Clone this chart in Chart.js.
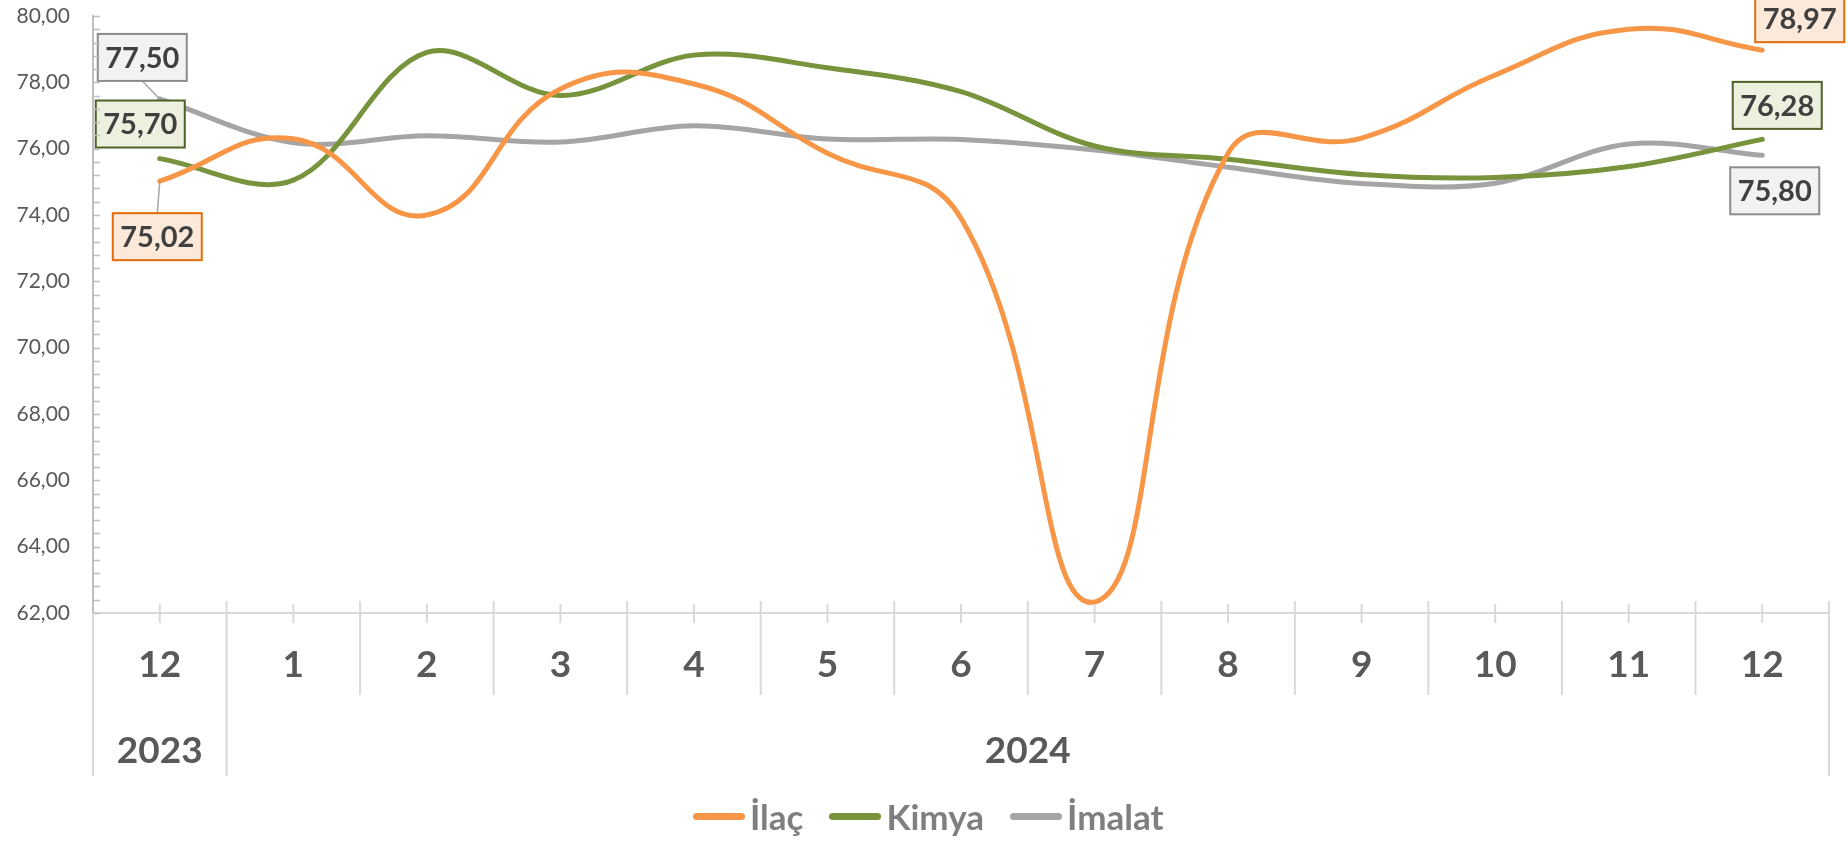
<!DOCTYPE html>
<html>
<head>
<meta charset="utf-8">
<script src="https://cdn.jsdelivr.net/npm/chart.js@4.4.1/dist/chart.umd.min.js"></script>
<style>
  html, body { margin: 0; padding: 0; background: #fff; }
  #wrap { position: relative; width: 1848px; height: 842px; }
  #legend {
    position: absolute; left: 693px; top: 796px; height: 40px;
    display: flex; align-items: center;
    font-family: Lato, "Open Sans", sans-serif; font-weight: bold; font-size: 35px; color: #7f7f7f;
  }
  .legend-item { display: flex; align-items: center; margin-right: 26px; }
  .legend-line { display: inline-block; width: 52px; height: 7px; border-radius: 4px; margin-right: 5px; }
</style>
</head>
<body>
<div id="wrap">
  <canvas id="chart" width="1848" height="842"></canvas>
  <div id="legend"></div>
</div>
<script>
  // months on the axis and the year groups below them
  const months = ["12", "1", "2", "3", "4", "5", "6", "7", "8", "9", "10", "11", "12"];
  const years = ["2023", "2024"];
  const yearSpan = [1, 12];

  const seriesNames = ["İlaç", "Kimya", "İmalat"];
  const ilac   = [75.02, 76.30, 74.00, 77.80, 77.95, 75.86, 73.90, 62.33, 75.86, 76.32, 78.22, 79.60, 78.97];
  const kimya  = [75.70, 75.05, 78.90, 77.60, 78.82, 78.44, 77.72, 76.08, 75.68, 75.22, 75.13, 75.46, 76.28];
  const imalat = [77.50, 76.18, 76.39, 76.20, 76.69, 76.29, 76.28, 75.96, 75.44, 74.95, 74.96, 76.14, 75.80];

  const lineColors = ["#F79646", "#77933C", "#A5A5A5"];
  const lineTension = [0.45, 0.35, 0.35];
  const boxFill    = ["#FDE9D9", "#EBF1DE", "#F2F2F2"];
  const boxBorder  = ["#E46C0A", "#4F6228", "#8C8C8C"];

  // where the value boxes sit relative to their point (first and last point)
  const boxOffsets = [
    { first: [-2.5, 55.5, true],  last: [37.5, -31.5, false] },
    { first: [-19.5, -34.6, false], last: [15, -34, false] },
    { first: [-17.5, -41.5, true], last: [12.5, 35.5, false] }
  ];

  const fmt = v => v.toFixed(2).replace(".", ",");

  const axisDecor = {
    id: "axisDecor",
    afterDraw(chart) {
      const { ctx, chartArea } = chart;
      const x = chart.scales.x, y = chart.scales.y;
      const bottom = chartArea.bottom;
      ctx.save();
      // minor ticks inside the y axis
      ctx.strokeStyle = "#BFBFBF";
      ctx.lineWidth = 1.5;
      for (let k = 0; k <= 45; k++) {
        const py = Math.round(y.getPixelForValue(62 + k * 0.4)) + 0.5;
        ctx.beginPath();
        ctx.moveTo(chartArea.left, py);
        ctx.lineTo(chartArea.left + 7, py);
        ctx.stroke();
      }
      // tick marks at category centres
      ctx.strokeStyle = "#D9D9D9";
      ctx.lineWidth = 2;
      months.forEach((m, i) => {
        const px = x.getPixelForValue(i);
        ctx.beginPath();
        ctx.moveTo(px, bottom - 9);
        ctx.lineTo(px, bottom + 10);
        ctx.stroke();
      });
      // separators between categories, longer ones between years
      const yearEdges = [0];
      yearSpan.forEach(n => yearEdges.push(yearEdges[yearEdges.length - 1] + n));
      const step = x.getPixelForValue(1) - x.getPixelForValue(0);
      for (let b = 0; b <= months.length; b++) {
        const px = x.getPixelForValue(0) - step / 2 + b * step;
        const long = yearEdges.includes(b);
        ctx.beginPath();
        ctx.moveTo(px, b === 0 ? bottom : bottom - 12);
        ctx.lineTo(px, long ? 776 : 695);
        ctx.stroke();
      }
      // year labels
      ctx.fillStyle = "#595959";
      ctx.font = "bold 37px Lato, 'Open Sans', sans-serif";
      ctx.textAlign = "center";
      ctx.textBaseline = "middle";
      years.forEach((yr, g) => {
        const l = x.getPixelForValue(0) - step / 2 + yearEdges[g] * step;
        const r = x.getPixelForValue(0) - step / 2 + yearEdges[g + 1] * step;
        ctx.fillText(yr, (l + r) / 2, 751);
      });
      ctx.restore();
    }
  };

  const valueBoxes = {
    id: "valueBoxes",
    afterDatasetsDraw(chart) {
      const ctx = chart.ctx;
      const w = 89, h = 47;
      ctx.save();
      chart.data.datasets.forEach((ds, d) => {
        const meta = chart.getDatasetMeta(d);
        const idxs = { first: 0, last: ds.data.length - 1 };
        Object.keys(idxs).forEach(key => {
          const i = idxs[key];
          const pt = meta.data[i];
          const [dx, dy, leader] = boxOffsets[d][key];
          const cx = pt.x + dx, cy = pt.y + dy;
          if (leader) {
            ctx.strokeStyle = "#A6A6A6";
            ctx.lineWidth = 1.5;
            ctx.beginPath();
            ctx.moveTo(cx, dy > 0 ? cy - h / 2 : cy + h / 2);
            ctx.lineTo(pt.x, pt.y);
            ctx.stroke();
          }
          ctx.fillStyle = boxFill[d];
          ctx.fillRect(cx - w / 2, cy - h / 2, w, h);
          ctx.strokeStyle = boxBorder[d];
          ctx.lineWidth = 2;
          ctx.strokeRect(cx - w / 2, cy - h / 2, w, h);
          ctx.fillStyle = "#404040";
          ctx.font = "bold 29px Lato, 'Open Sans', sans-serif";
          ctx.textAlign = "center";
          ctx.textBaseline = "middle";
          ctx.fillText(fmt(ds.data[i]), cx, cy + 1);
        });
      });
      ctx.restore();
    }
  };

  const seriesData = [ilac, kimya, imalat];
  const ctx = document.getElementById("chart").getContext("2d");
  new Chart(ctx, {
    type: "line",
    data: {
      labels: months,
      datasets: seriesNames.map((name, i) => ({
        label: name,
        data: seriesData[i],
        borderColor: lineColors[i],
        backgroundColor: lineColors[i],
        borderWidth: 5,
        borderCapStyle: "round",
        pointRadius: 0,
        tension: lineTension[i],
        fill: false
      }))
    },
    options: {
      responsive: false,
      animation: false,
      devicePixelRatio: 1,
      layout: { padding: { top: 16, right: 19, bottom: 0, left: 0 } },
      plugins: { legend: { display: false }, tooltip: { enabled: false } },
      scales: {
        x: {
          offset: true,
          grid: { display: false, drawTicks: false },
          border: { display: true, color: "#D9D9D9", width: 2 },
          ticks: {
            color: "#595959",
            font: { family: "Lato, 'Open Sans', sans-serif", size: 37, weight: "bold" },
            padding: 30,
            maxRotation: 0,
            autoSkip: false
          },
          afterFit: s => { s.height = 229; }
        },
        y: {
          min: 62, max: 80,
          grid: { display: false, drawTicks: false },
          border: { display: true, color: "#BFBFBF", width: 2 },
          ticks: {
            stepSize: 2,
            color: "#595959",
            font: { family: "Lato, 'Open Sans', sans-serif", size: 21, lineHeight: 1 },
            padding: 23,
            callback: v => fmt(v)
          },
          // the tick padding also pads top/bottom; keep the plot up to 16px from the top
          afterFit: s => { s.width = 93; s.paddingTop = 0; s.paddingBottom = 0; }
        }
      }
    },
    plugins: [axisDecor, valueBoxes]
  });

  // Custom legend
  let legendHTML = "";
  seriesNames.forEach((name, i) => {
    legendHTML += `<span class="legend-item"><span class="legend-line" style="background:${lineColors[i]}"></span>${name}</span>`;
  });
  document.getElementById("legend").innerHTML = legendHTML;
</script>
</body>
</html>
